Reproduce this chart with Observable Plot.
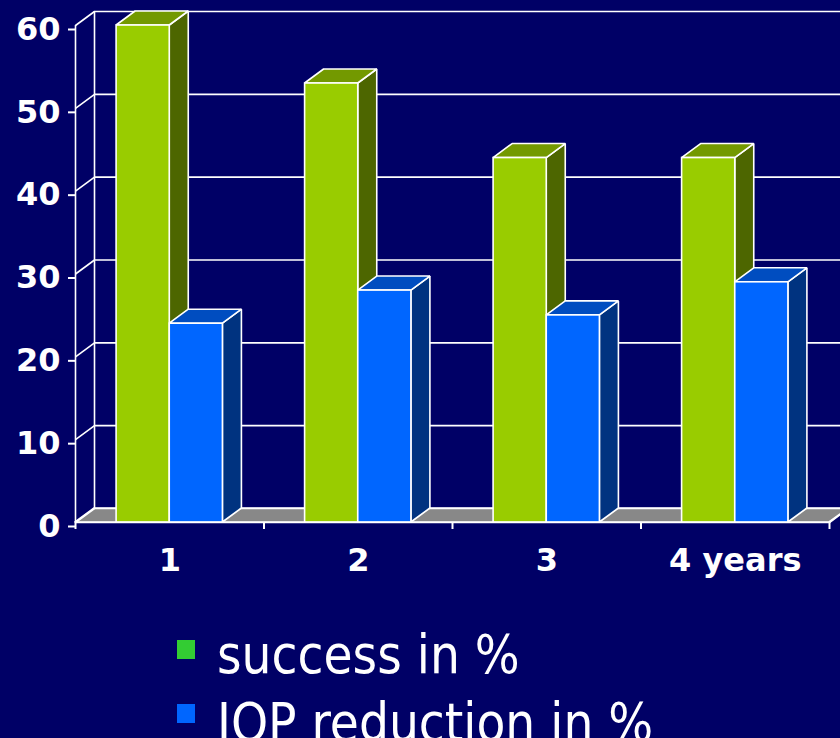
<!DOCTYPE html>
<html>
<head>
<meta charset="utf-8">
<script src="https://cdn.jsdelivr.net/npm/d3@7"></script>
<script src="https://cdn.jsdelivr.net/npm/@observablehq/plot@0.6"></script>
<style>
  html, body { margin: 0; padding: 0; background: #000066; }
  #wrap { position: relative; width: 840px; height: 738px; overflow: hidden; background: #000066; }
  #chart { position: absolute; left: 0; top: 0; }
  .lg { position: absolute; left: 177px; width: 18px; height: 19px; }
  .lt { position: absolute; left: 217px; font-family: "DejaVu Sans Condensed", "DejaVu Sans", sans-serif; font-stretch: condensed; font-size: 52.5px; line-height: 52.5px; color: white; white-space: nowrap; }
</style>
</head>
<body>
<div id="wrap">
  <div id="chart"></div>
  <div id="legend"></div>
</div>
<script>
const categories = ["1", "2", "3", "4 years"];
const success = [60, 53, 44, 44];
const iop = [24, 28, 25, 29];
const yTicks = [0, 10, 20, 30, 40, 50, 60];
const seriesNames = ["success in %", "IOP reduction in %"];
const frontColors = ["#99CC00", "#0066FF"];
const topColors = ["#739900", "#004DC0"];
const sideColors = ["#4D6600", "#003380"];
const legendColors = ["#33CC33", "#0066FF"];

const D = 0.1008;  // depth in x units
const H = 1.69;    // depth in y units
const BW = 0.282;  // bar width in category units
const START = 0.218;

const seriesValues = [success, iop];
const fronts = [], tops = [], sides = [];
seriesValues.forEach((vals, s) => {
  vals.forEach((v, i) => {
    const x1 = i + START + s * BW, x2 = x1 + BW, key = s + "-" + i;
    fronts.push({s, x1, x2, y1: 0, y2: v});
    tops.push({s, key, x: x1, lo: v, hi: v});
    tops.push({s, key, x: x1 + D, lo: v, hi: v + H});
    tops.push({s, key, x: x2, lo: v, hi: v + H});
    tops.push({s, key, x: x2 + D, lo: v + H, hi: v + H});
    sides.push({s, key, x: x2, lo: 0, hi: v});
    sides.push({s, key, x: x2 + D, lo: H, hi: v + H});
  });
});
const N = categories.length;
const floor = [
  {x: 0, lo: 0, hi: 0},
  {x: D, lo: 0, hi: H},
  {x: N, lo: 0, hi: H},
  {x: N + D, lo: H, hi: H}
];

const W = 1.6;
const tickFont = "'DejaVu Sans', sans-serif";
const barMarks = [];
[0, 1].forEach(s => {
  barMarks.push(Plot.area(sides.filter(d => d.s === s), {x1: "x", y1: "lo", y2: "hi", z: "key", fill: sideColors[s], stroke: "white", strokeWidth: W, strokeLinejoin: "miter"}));
  barMarks.push(Plot.area(tops.filter(d => d.s === s), {x1: "x", y1: "lo", y2: "hi", z: "key", fill: topColors[s], stroke: "white", strokeWidth: W, strokeLinejoin: "miter"}));
  barMarks.push(Plot.rect(fronts.filter(d => d.s === s), {x1: "x1", x2: "x2", y1: "y1", y2: "y2", fill: frontColors[s], stroke: "white", strokeWidth: W}));
});

const plot = Plot.plot({
  width: 840,
  height: 600,
  marginTop: 25, marginRight: 11, marginBottom: 78, marginLeft: 75,
  style: {background: "#000066", color: "white", fontFamily: tickFont, overflow: "visible"},
  x: {domain: [0, N]},
  y: {domain: [0, 60]},
  marks: [
    // floor
    Plot.area(floor, {x1: "x", y1: "lo", y2: "hi", fill: "#888888", stroke: "white", strokeWidth: W}),
    // back wall gridlines
    Plot.ruleY(yTicks, {y: d => d + H, x1: D, x2: N + D + 0.2, stroke: "white", strokeWidth: W}),
    // left wall diagonals
    Plot.link(yTicks, {x1: 0, y1: d => d, x2: D, y2: d => d + H, stroke: "white", strokeWidth: W}),
    // back wall left edge
    Plot.ruleX([D], {y1: H, y2: 60 + H, stroke: "white", strokeWidth: W}),
    // front axis line
    Plot.ruleX([0], {y1: 0, y2: 60, stroke: "white", strokeWidth: W}),
    // right floor diagonal
    Plot.link([N], {x1: d => d, y1: 0, x2: d => d + D, y2: H, stroke: "white", strokeWidth: W}),
    ...barMarks,
    // front floor edge
    Plot.ruleY([0], {x1: 0, x2: N, stroke: "white", strokeWidth: W}),
    Plot.axisY(yTicks, {tickSize: 7, tickPadding: 8, fontSize: 32, fontWeight: "bold", fontFamily: tickFont, strokeWidth: 2, label: null, dy: 4}),
    Plot.axisX(d3.range(N + 1), {tickSize: 7, tickFormat: () => "", strokeWidth: 2, label: null}),
    Plot.axisX(categories.map((_, i) => i + 0.5), {tickSize: 0, tickPadding: 26, tickFormat: d => categories[Math.floor(d)], fontSize: 32, fontWeight: "bold", fontFamily: tickFont, label: null})
  ]
});
document.getElementById("chart").appendChild(plot);

const legend = document.getElementById("legend");
const textTops = [629, 697];
seriesNames.forEach((name, i) => {
  const sq = document.createElement("div");
  sq.className = "lg";
  sq.style.top = (640 + i * 64) + "px";
  sq.style.background = legendColors[i];
  legend.appendChild(sq);
  const t = document.createElement("div");
  t.className = "lt";
  t.style.top = textTops[i] + "px";
  t.textContent = name;
  legend.appendChild(t);
});
</script>
</body>
</html>
